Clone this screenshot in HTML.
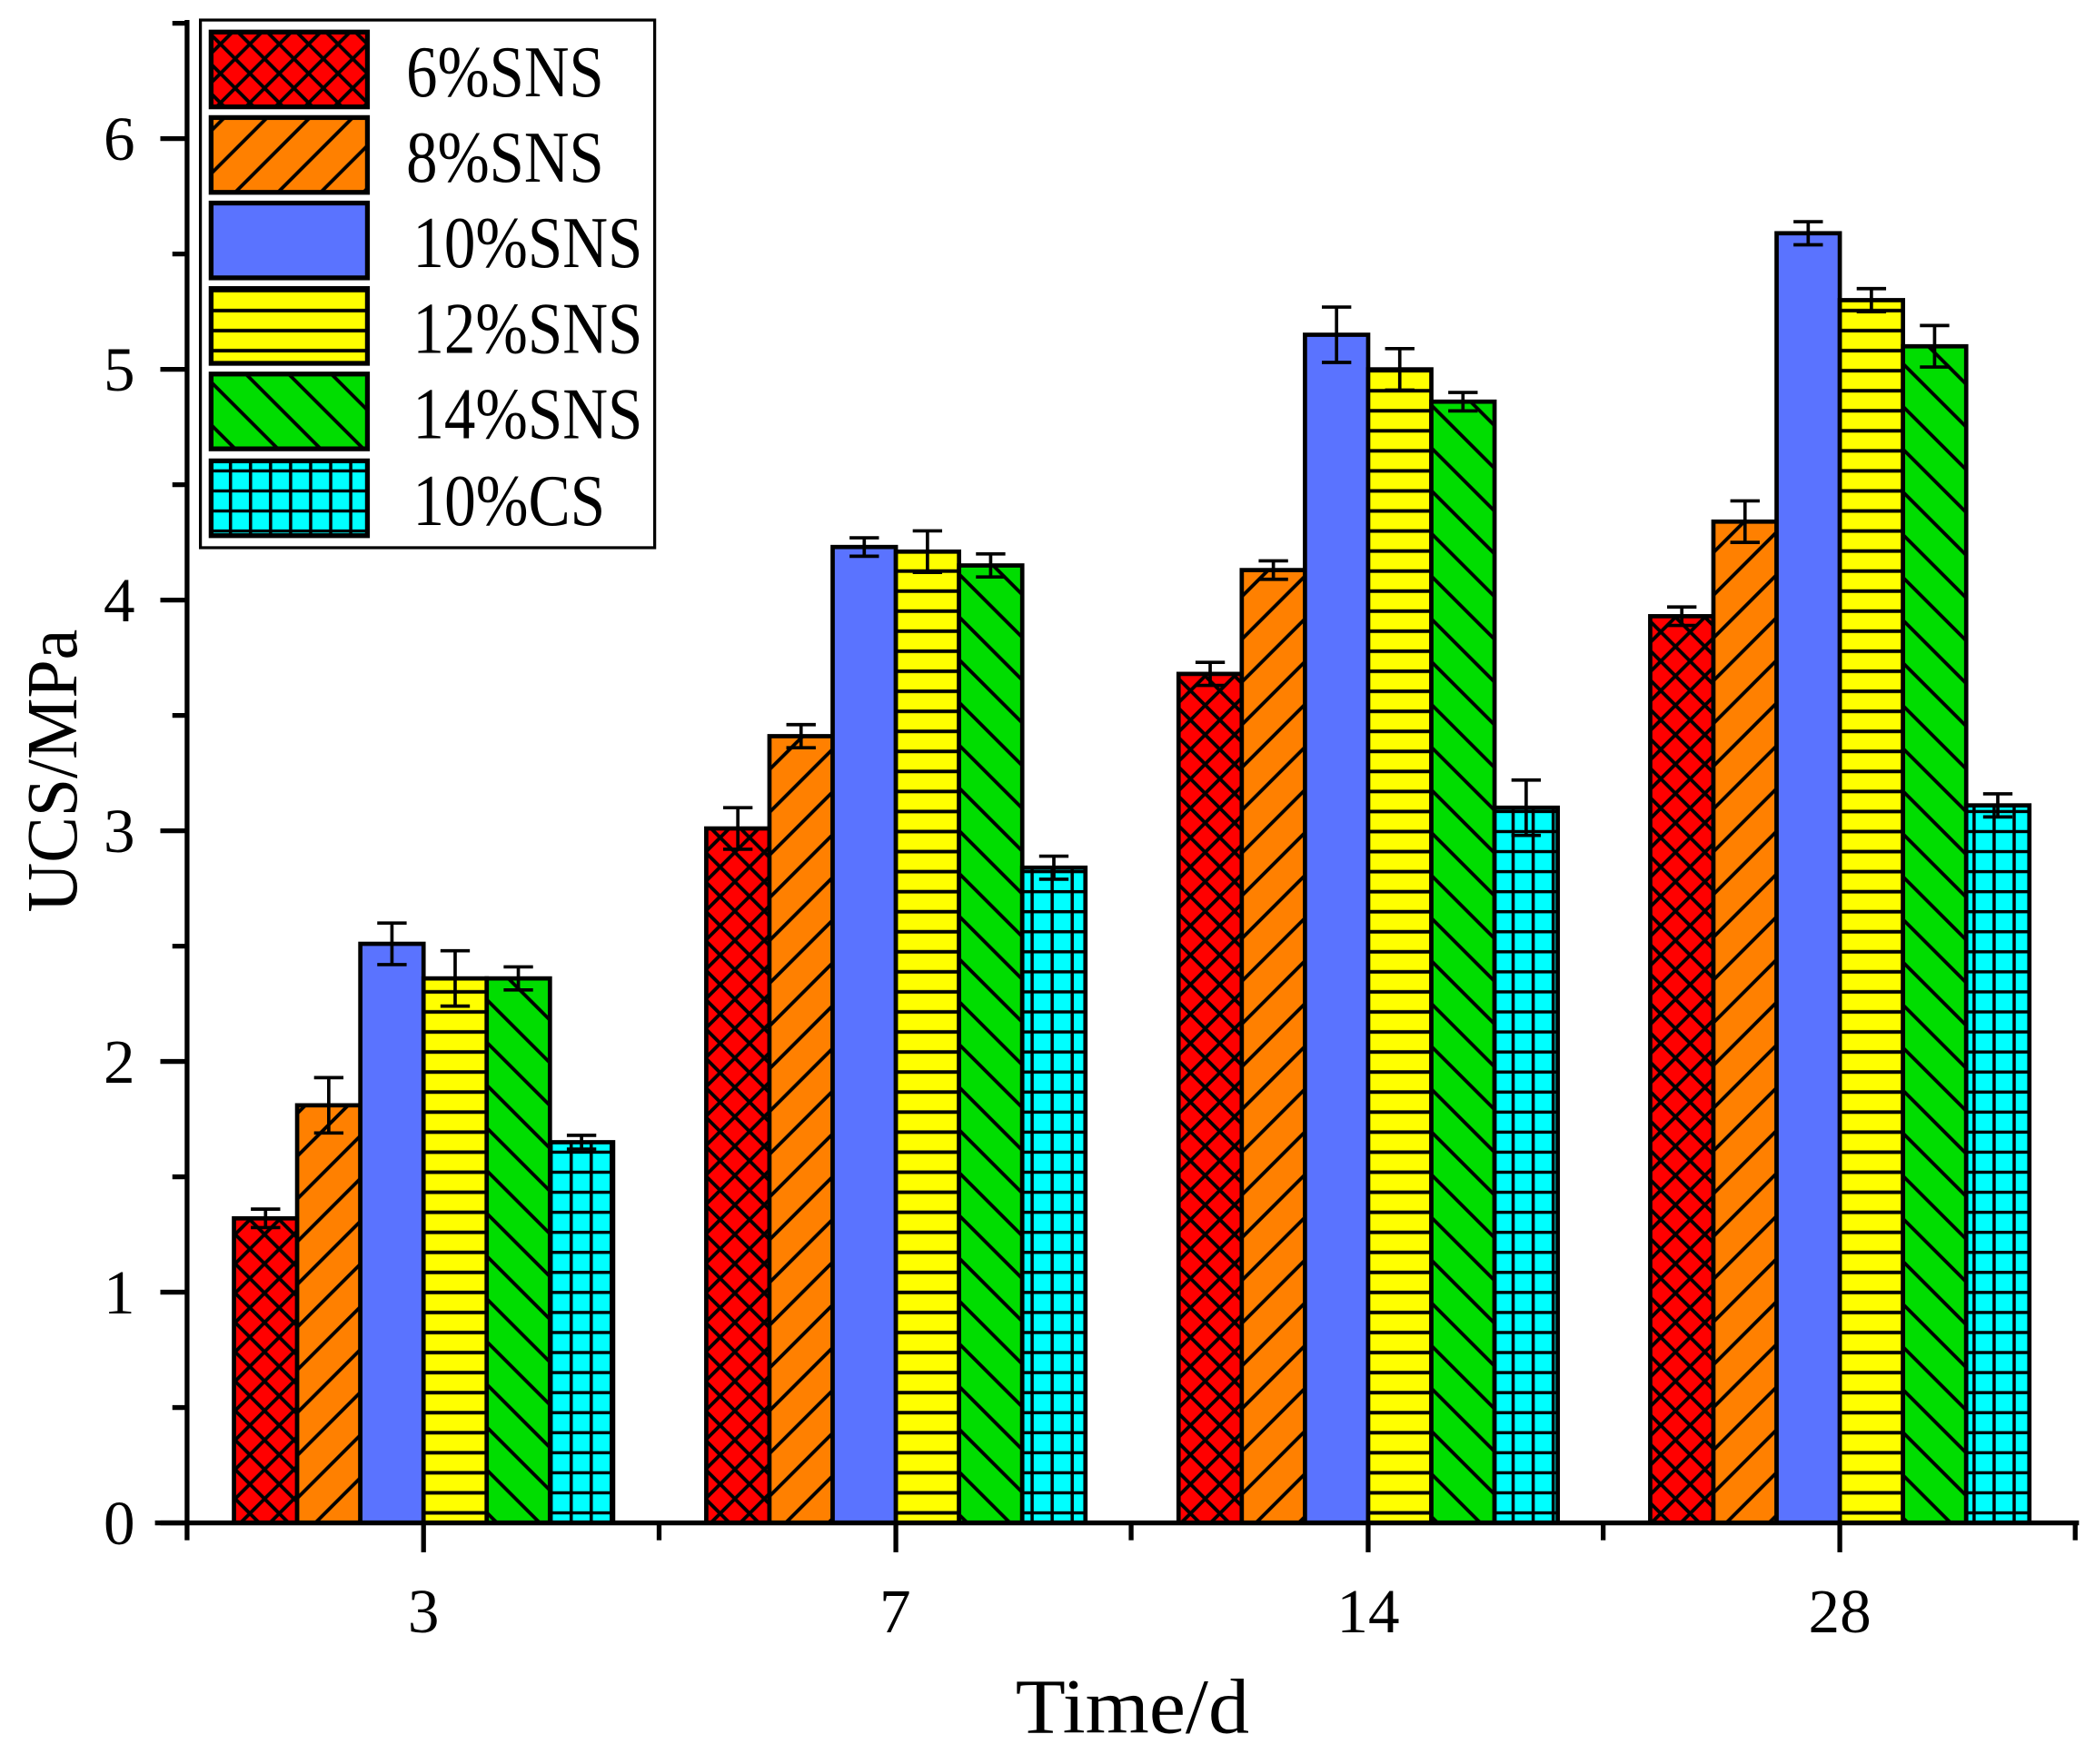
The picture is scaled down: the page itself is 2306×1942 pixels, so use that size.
<!DOCTYPE html>
<html><head><meta charset="utf-8"><style>html,body{margin:0;padding:0;background:#fff}svg{display:block}</style></head>
<body>
<svg width="2306" height="1942" viewBox="0 0 1568 1320.5" xmlns="http://www.w3.org/2000/svg" font-family="'Liberation Serif', serif">
<defs>
<pattern id="pRed" patternUnits="userSpaceOnUse" width="22" height="22"><rect width="22" height="22" fill="#ff0000"/><path d="M-2,-2 L24,24 M-2,24 L24,-2 M-13,11 L11,35 M11,-13 L35,11 M-13,11 L11,-13 M11,35 L35,11" stroke="#000" stroke-width="2.6"/></pattern>
<pattern id="pOrange" patternUnits="userSpaceOnUse" width="32" height="32"><rect width="32" height="32" fill="#ff8000"/><path d="M-4,36 L36,-4 M-20,20 L20,-20 M12,52 L52,12" stroke="#000" stroke-width="2.6"/></pattern>
<pattern id="pYellow" patternUnits="userSpaceOnUse" width="20" height="15"><rect width="20" height="15" fill="#ffff00"/><path d="M0,7.5 H20" stroke="#000" stroke-width="2.6"/></pattern>
<pattern id="pGreen" patternUnits="userSpaceOnUse" width="32" height="32"><rect width="32" height="32" fill="#00dd00"/><path d="M-4,-4 L36,36 M-20,12 L20,52 M12,-20 L52,20" stroke="#000" stroke-width="2.6"/></pattern>
<pattern id="pCyan" patternUnits="userSpaceOnUse" width="15" height="15"><rect width="15" height="15" fill="#00ffff"/><path d="M0,7.5 H15 M7.5,0 V15" stroke="#000" stroke-width="2.4"/></pattern>
</defs>
<g id="bars" stroke="#000" stroke-width="3.2"></g>
<g id="err" stroke="#000" stroke-width="2.5"></g>
<g stroke="#000" stroke-width="3.6" fill="none">
<line x1="140" y1="15" x2="140" y2="1141.5"/>
<line x1="116" y1="1140" x2="1556" y2="1140"/>
</g>
<g id="ticks" stroke="#000" stroke-width="3.6"></g>
<g font-size="47" text-anchor="end" id="ylab"></g>
<g font-size="47" text-anchor="middle">
<text x="317" y="1222">3</text><text x="670" y="1222">7</text><text x="1024" y="1222">14</text><text x="1377" y="1222">28</text>
</g>
<text x="760" y="1297" font-size="58" textLength="175" lengthAdjust="spacingAndGlyphs">Time/d</text>
<text transform="translate(57,683) rotate(-90)" font-size="54" textLength="212" lengthAdjust="spacingAndGlyphs">UCS/MPa</text>
<rect x="150" y="15" width="340" height="395" fill="#fff" stroke="#000" stroke-width="2.2"/>
<g stroke="#000" stroke-width="3.6">
<rect x="158" y="24" width="117" height="56" fill="url(#pRed)"/>
<rect x="158" y="88" width="117" height="56" fill="url(#pOrange)"/>
<rect x="158" y="152" width="117" height="56" fill="#5a73ff"/>
<rect x="158" y="216" width="117" height="56" fill="url(#pYellow)"/>
<rect x="158" y="280" width="117" height="56" fill="url(#pGreen)"/>
<rect x="158" y="345" width="117" height="56" fill="url(#pCyan)"/>
</g>
<g font-size="55">
<text x="304" y="72" textLength="148" lengthAdjust="spacingAndGlyphs">6%SNS</text>
<text x="304" y="136" textLength="148" lengthAdjust="spacingAndGlyphs">8%SNS</text>
<text x="309" y="200" textLength="172" lengthAdjust="spacingAndGlyphs">10%SNS</text>
<text x="309" y="264" textLength="172" lengthAdjust="spacingAndGlyphs">12%SNS</text>
<text x="309" y="328" textLength="172" lengthAdjust="spacingAndGlyphs">14%SNS</text>
<text x="309" y="393" textLength="144" lengthAdjust="spacingAndGlyphs">10%CS</text>
</g>
<script>
(function(){
var NS="http://www.w3.org/2000/svg";
function el(p,t,a){var e=document.createElementNS(NS,t);for(var k in a)e.setAttribute(k,a[k]);p.appendChild(e);return e;}
var Y=function(v){return 1140-v*172.7;};
var fills=["url(#pRed)","url(#pOrange)","#5a73ff","url(#pYellow)","url(#pGreen)","url(#pCyan)"];
var data=[[[1.32,.04],[1.81,.12],[2.51,.09],[2.36,.12],[2.36,.05],[1.65,.03]],
[[3.01,.09],[3.41,.05],[4.23,.04],[4.21,.09],[4.15,.05],[2.84,.05]],
[[3.68,.05],[4.13,.04],[5.15,.12],[5.00,.09],[4.86,.04],[3.10,.12]],
[[3.93,.04],[4.34,.09],[5.59,.05],[5.30,.05],[5.10,.09],[3.11,.05]]];
var cs=[317,670.5,1024,1377];
var bars=document.getElementById("bars"),err=document.getElementById("err");
var w=47.3;
for(var g=0;g<4;g++){for(var i=0;i<6;i++){
var x=cs[g]-3*w+i*w,v=data[g][i][0],e=data[g][i][1];
el(bars,"rect",{x:x,y:Y(v),width:w,height:1140-Y(v),fill:fills[i]});
var cx=x+w/2;
el(err,"line",{x1:cx,y1:Y(v+e),x2:cx,y2:Y(v-e)});
el(err,"line",{x1:cx-11,y1:Y(v+e),x2:cx+11,y2:Y(v+e)});
el(err,"line",{x1:cx-11,y1:Y(v-e),x2:cx+11,y2:Y(v-e)});
}}
var t=document.getElementById("ticks"),yl=document.getElementById("ylab");
for(var k=0;k<=13;k++){var v=k/2,y=Y(v);
if(k%2==0){el(t,"line",{x1:120,y1:y,x2:140,y2:y});var tx=el(yl,"text",{x:101,y:y+16});tx.textContent=String(v);}
else el(t,"line",{x1:129,y1:y,x2:140,y2:y});}
for(var j=0;j<5;j++){var x=140+j*353.3;el(t,"line",{x1:x,y1:1140,x2:x,y2:1153});}
for(var j=0;j<4;j++){el(t,"line",{x1:cs[j],y1:1140,x2:cs[j],y2:1162});}
})();
</script>
</svg>
</body></html>
